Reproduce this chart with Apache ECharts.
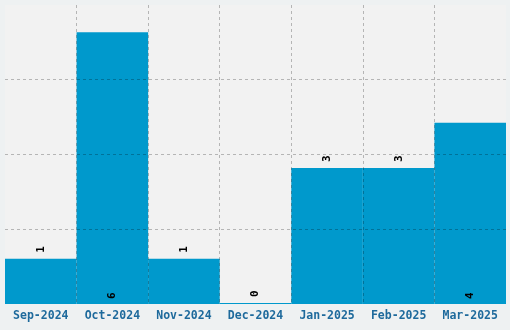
<!DOCTYPE html>
<html>
<head>
<meta charset="utf-8">
<script src="https://cdn.jsdelivr.net/npm/echarts@6/dist/echarts.min.js"></script>
<style>
html,body{margin:0;padding:0;background:#eef1f2;}
#c{width:510px;height:330px;}
</style>
</head>
<body>
<div id="c"></div>
<script>
const categories = ['Sep-2024','Oct-2024','Nov-2024','Dec-2024','Jan-2025','Feb-2025','Mar-2025'];
const values = [1, 6, 1, 0, 3, 3, 4];
const insideLabels = ['Oct-2024','Mar-2025'];

const chart = echarts.init(document.getElementById('c'));
const font = 'DejaVu Sans Mono';
chart.setOption({
  backgroundColor: '#eef1f2',
  animation: false,
  grid: {left: 5, right: 4, top: 5, bottom: 26, show: true, backgroundColor: '#f2f2f2', borderWidth: 0},
  xAxis: {
    type: 'category', data: categories, z: 10,
    axisLine: {show: false}, axisTick: {show: false},
    axisLabel: {interval: 0, margin: 6, color: '#1e6a9c', fontFamily: font, fontWeight: 700, fontSize: 11.5},
    splitLine: {show: true, interval: 0, showMinLine: false, showMaxLine: false, lineStyle: {color: 'rgba(0,0,0,0.25)', type: [3, 3], width: 1}}
  },
  yAxis: {
    type: 'value', min: 0, max: 6.6, interval: 1.65, z: 10,
    axisLine: {show: false}, axisTick: {show: false}, axisLabel: {show: false},
    splitLine: {show: true, showMinLine: false, showMaxLine: false, lineStyle: {color: 'rgba(0,0,0,0.25)', type: [3, 3], width: 1}}
  },
  series: [{
    type: 'bar', barWidth: '100%', z: 1, barMinHeight: 1,
    itemStyle: {color: '#0099cc'},
    label: {show: true, position: 'top', distance: 6, rotate: 90, align: 'left', verticalAlign: 'middle',
      color: '#000', fontFamily: font, fontWeight: 700, fontSize: 11},
    data: values.map((v, i) => insideLabels.includes(categories[i])
      ? {value: v, label: {position: 'insideBottom', distance: 5}}
      : v)
  }]
});
</script>
</body>
</html>
